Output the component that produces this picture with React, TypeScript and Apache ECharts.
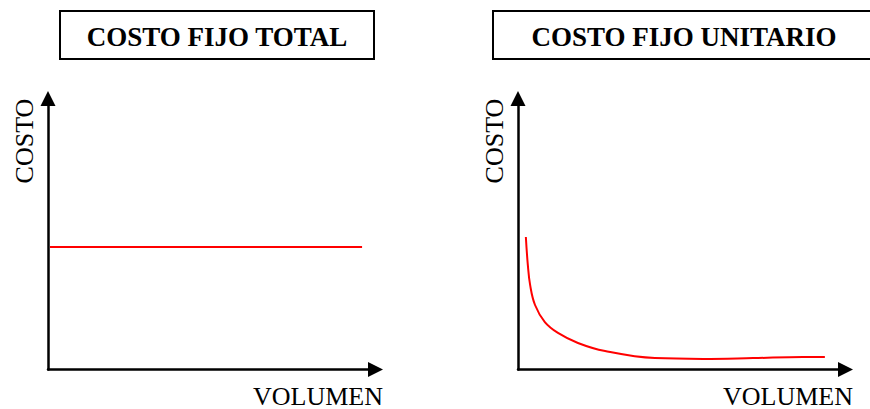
import React, { useEffect, useRef } from "react";
import * as echarts from "echarts";

const titles = ["COSTO FIJO TOTAL", "COSTO FIJO UNITARIO"];
const xAxisName = "VOLUMEN";
const yAxisName = "COSTO";

// Costo fijo total: constant level
const totalX = [0.6, 95.9];
const totalY = [45.2, 45.2];

// Costo fijo unitario: decreasing curve
const unitX = [2.4, 3.0, 3.7, 5.2, 8.2, 12.2, 18.3, 26.6, 41.8, 56.5, 71.8, 87.0, 93.7];
const unitY = [48.9, 38.6, 31.2, 23.8, 17.5, 13.5, 9.8, 6.8, 4.2, 3.9, 4.2, 4.6, 4.6];

const pairs = (xs: number[], ys: number[]) => xs.map((x, i) => [x, ys[i]]);

const FONT = "'Liberation Serif', 'Times New Roman', serif";

export default function App() {
  const ref = useRef<HTMLDivElement>(null);
  useEffect(() => {
    document.body.style.margin = "0";
    const chart = echarts.init(ref.current!, null, { renderer: "svg" });
    const axisLine = {
      show: true,
      symbol: ["none", "triangle"],
      symbolSize: [15, 15],
      lineStyle: { color: "#000", width: 2.5 },
    };
    const common = {
      type: "value" as const,
      min: 0,
      max: 100,
      axisLine,
      axisTick: { show: false },
      axisLabel: { show: false },
      splitLine: { show: false },
    };
    const grids = [
      { left: 48, top: 98.5, width: 327.5, height: 271 },
      { left: 518, top: 98.5, width: 327.5, height: 271 },
    ];
    const textStyle = { fontFamily: FONT, fontSize: 26, fill: "#000" };
    const titleStyle = { ...textStyle, fontSize: 27, fontWeight: "bold" };
    chart.setOption({
      animation: false,
      backgroundColor: "#fff",
      grid: grids,
      xAxis: [
        { ...common, gridIndex: 0 },
        { ...common, gridIndex: 1 },
      ],
      yAxis: [
        { ...common, gridIndex: 0 },
        { ...common, gridIndex: 1 },
      ],
      series: [
        {
          type: "line",
          xAxisIndex: 0,
          yAxisIndex: 0,
          data: pairs(totalX, totalY),
          showSymbol: false,
          lineStyle: { color: "#ff0000", width: 2 },
        },
        {
          type: "line",
          xAxisIndex: 1,
          yAxisIndex: 1,
          data: pairs(unitX, unitY),
          smooth: 0.4,
          showSymbol: false,
          lineStyle: { color: "#ff0000", width: 2 },
        },
      ],
      graphic: [
        {
          type: "rect",
          shape: { x: 60, y: 11, width: 314, height: 48 },
          style: { fill: "#fff", stroke: "#000", lineWidth: 2 },
        },
        {
          type: "text",
          x: 217,
          y: 37,
          style: { ...titleStyle, text: titles[0], textAlign: "center", textVerticalAlign: "middle" },
        },
        {
          type: "rect",
          shape: { x: 493, y: 11, width: 383, height: 48 },
          style: { fill: "#fff", stroke: "#000", lineWidth: 2 },
        },
        {
          type: "text",
          x: 684,
          y: 37,
          style: { ...titleStyle, text: titles[1], textAlign: "center", textVerticalAlign: "middle" },
        },
        {
          type: "text",
          x: 383,
          y: 396,
          style: { ...textStyle, text: xAxisName, textAlign: "right", textVerticalAlign: "middle" },
        },
        {
          type: "text",
          x: 853,
          y: 396,
          style: { ...textStyle, text: xAxisName, textAlign: "right", textVerticalAlign: "middle" },
        },
        {
          type: "text",
          x: 24,
          y: 141,
          rotation: Math.PI / 2,
          style: { ...textStyle, text: yAxisName, textAlign: "center", textVerticalAlign: "middle" },
        },
        {
          type: "text",
          x: 494,
          y: 141,
          rotation: Math.PI / 2,
          style: { ...textStyle, text: yAxisName, textAlign: "center", textVerticalAlign: "middle" },
        },
      ],
    });
    return () => chart.dispose();
  }, []);
  return <div ref={ref} style={{ width: 870, height: 409 }} />;
}
